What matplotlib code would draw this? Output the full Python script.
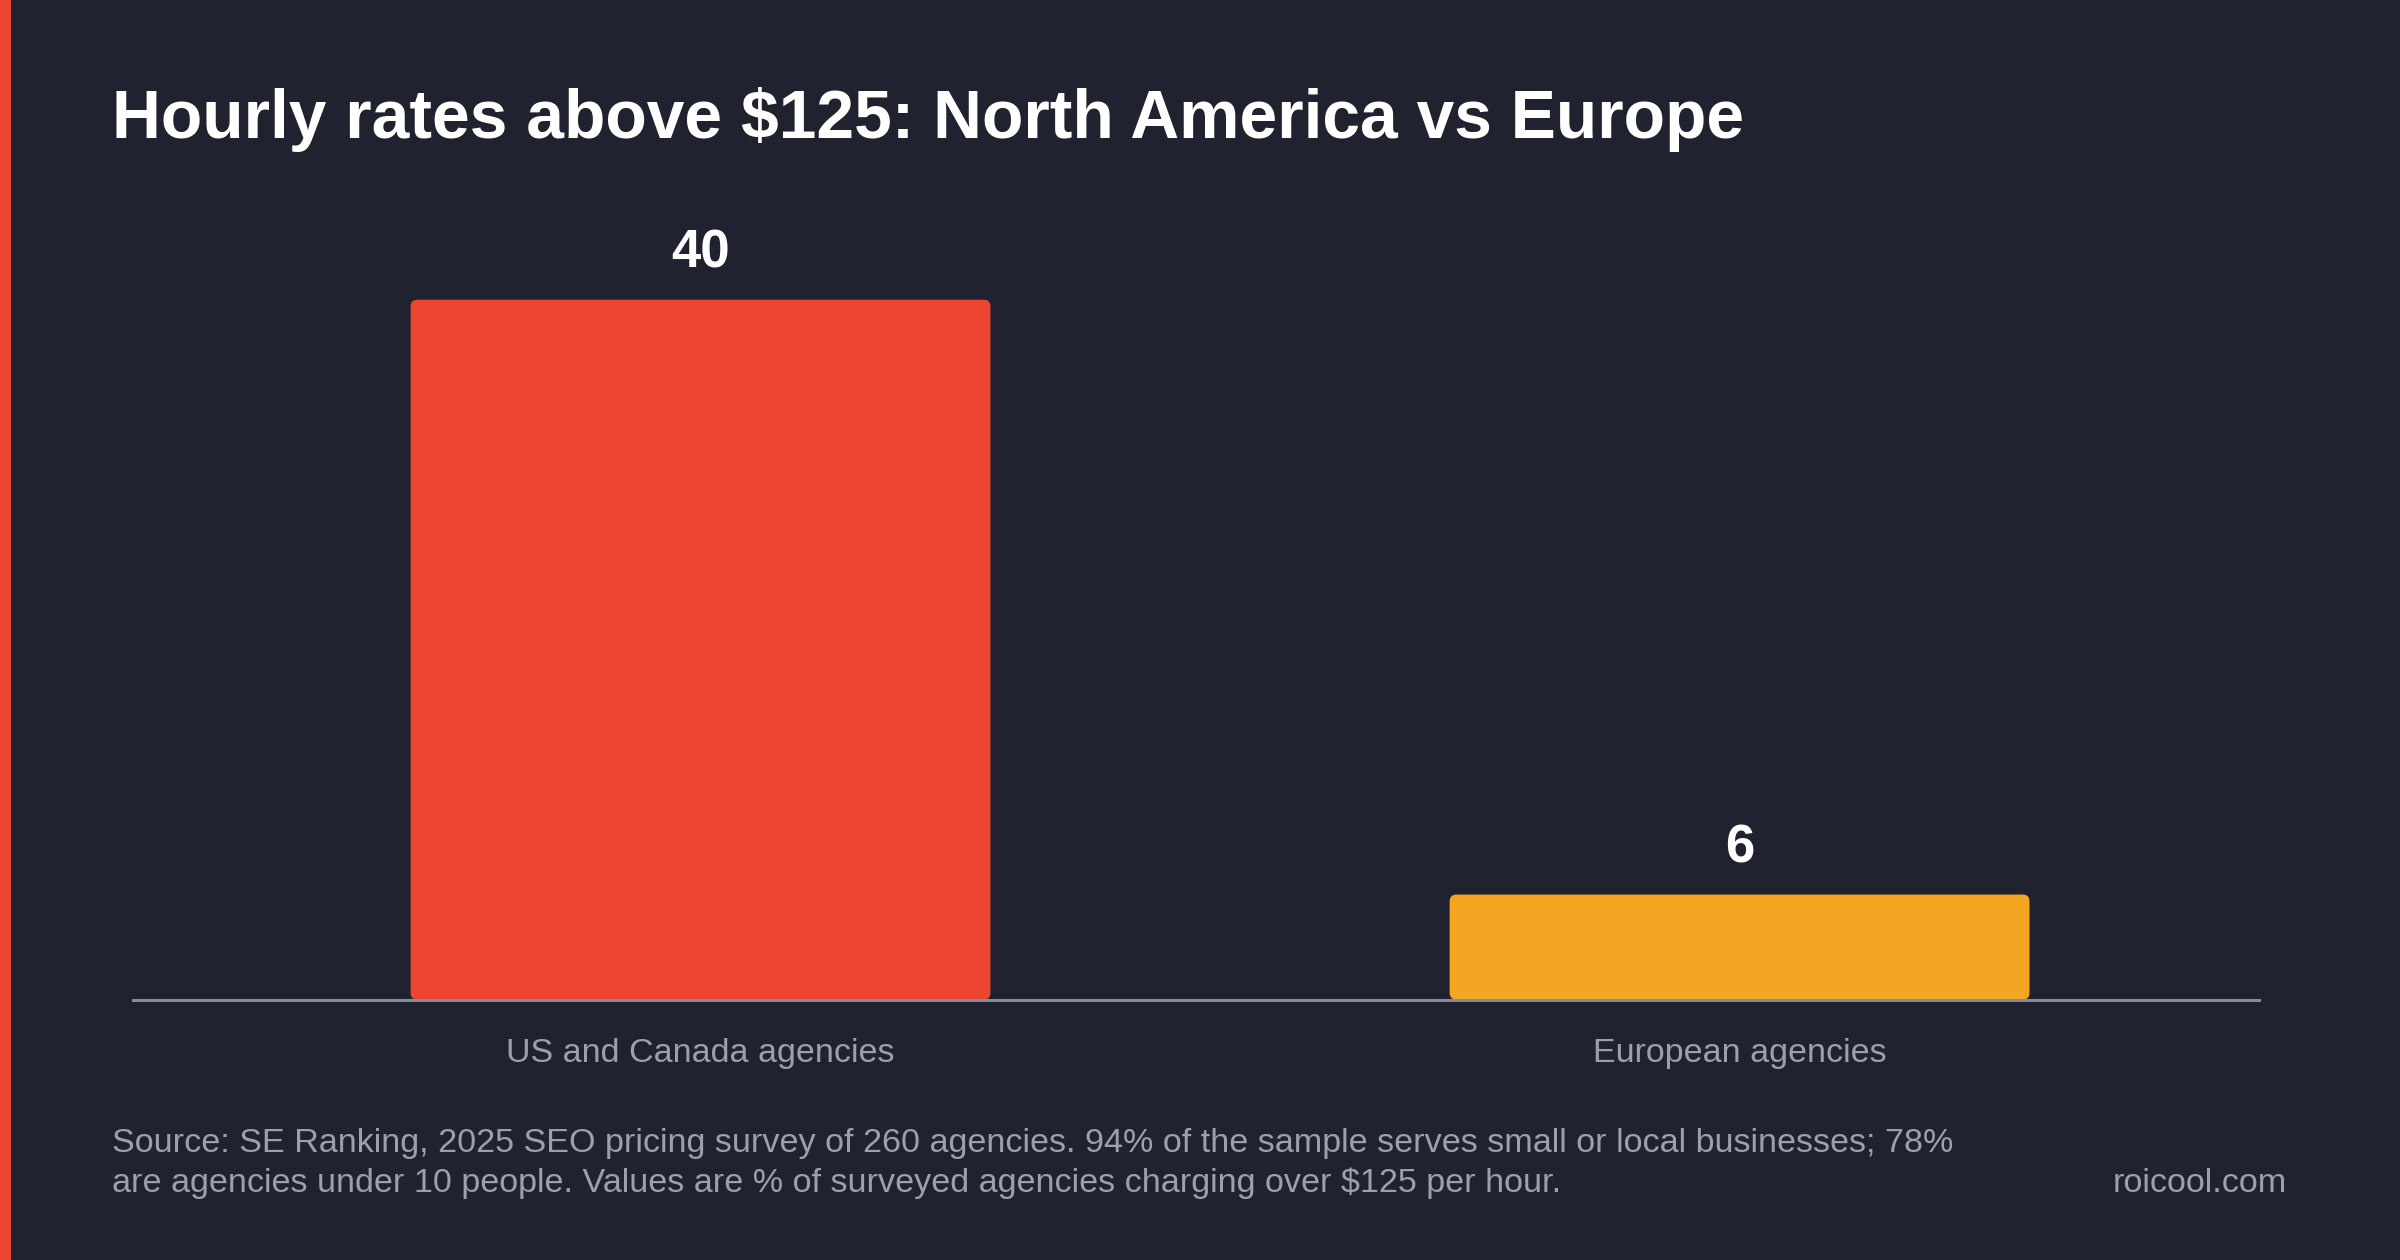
import matplotlib
matplotlib.use("Agg")
import matplotlib.pyplot as plt
from matplotlib.patches import FancyBboxPatch, Rectangle

# data
categories = ["US and Canada agencies", "European agencies"]
values = [40, 6]
bar_colors = ["#ec4530", "#f4a623"]

title = "Hourly rates above $125: North America vs Europe"
source_lines = [
    "Source: SE Ranking, 2025 SEO pricing survey of 260 agencies. 94% of the sample serves small or local businesses; 78%",
    "are agencies under 10 people. Values are % of surveyed agencies charging over $125 per hour.",
]
brand = "roicool.com"

BG = "#20232f"
GREY = "#9aa0ae"

plt.rcParams["font.family"] = ["Liberation Sans", "DejaVu Sans"]

fig = plt.figure(figsize=(12, 6.3), dpi=200, facecolor=BG)
ax = fig.add_axes([0.0555, 0.2067, 0.8858, 0.611])
ax.set_facecolor(BG)

x = list(range(len(categories)))
bars = ax.bar(x, values, width=0.558, color=bar_colors)

# swap plain bars for slightly rounded ones
for b in bars:
    rb = FancyBboxPatch((b.get_x(), b.get_y()), b.get_width(), b.get_height(),
                        boxstyle="round,pad=0,rounding_size=0.0065",
                        mutation_aspect=58, facecolor=b.get_facecolor(),
                        edgecolor="none", zorder=2)
    ax.add_patch(rb)
    b.set_visible(False)

for xi, v in zip(x, values):
    ax.annotate(str(v), (xi, v), xytext=(0, 7.5), textcoords="offset points",
                ha="center", va="bottom", fontsize=19, fontweight="bold", color="white")

ax.set_xlim(-0.546, 1.5)
ax.set_ylim(0, 44)
ax.set_xticks(x)
ax.set_xticklabels(categories, fontsize=12.25, color=GREY)
ax.tick_params(axis="x", length=0, pad=14)
ax.set_yticks([])
for s in ["top", "right", "left"]:
    ax.spines[s].set_visible(False)
ax.spines["bottom"].set_color("#838b9c")
ax.spines["bottom"].set_linewidth(1.1)
ax.spines["bottom"].set_zorder(3)

fig.text(0.0466, 0.8906, title, fontsize=24.4, fontweight="bold", color="white",
         va="baseline", ha="left")

fig.text(0.0466, 0.0857, source_lines[0], fontsize=12.27, color=GREY, va="baseline")
fig.text(0.0466, 0.054, source_lines[1], fontsize=12.27, color=GREY, va="baseline")
fig.text(0.953, 0.054, brand, fontsize=12.27, color=GREY, va="baseline", ha="right")

# accent stripe on the left edge
fig.patches.append(Rectangle((0, 0), 0.0046, 1, transform=fig.transFigure,
                             facecolor="#ec4530", edgecolor="none"))

fig.savefig("out.png", dpi=200, facecolor=BG)
